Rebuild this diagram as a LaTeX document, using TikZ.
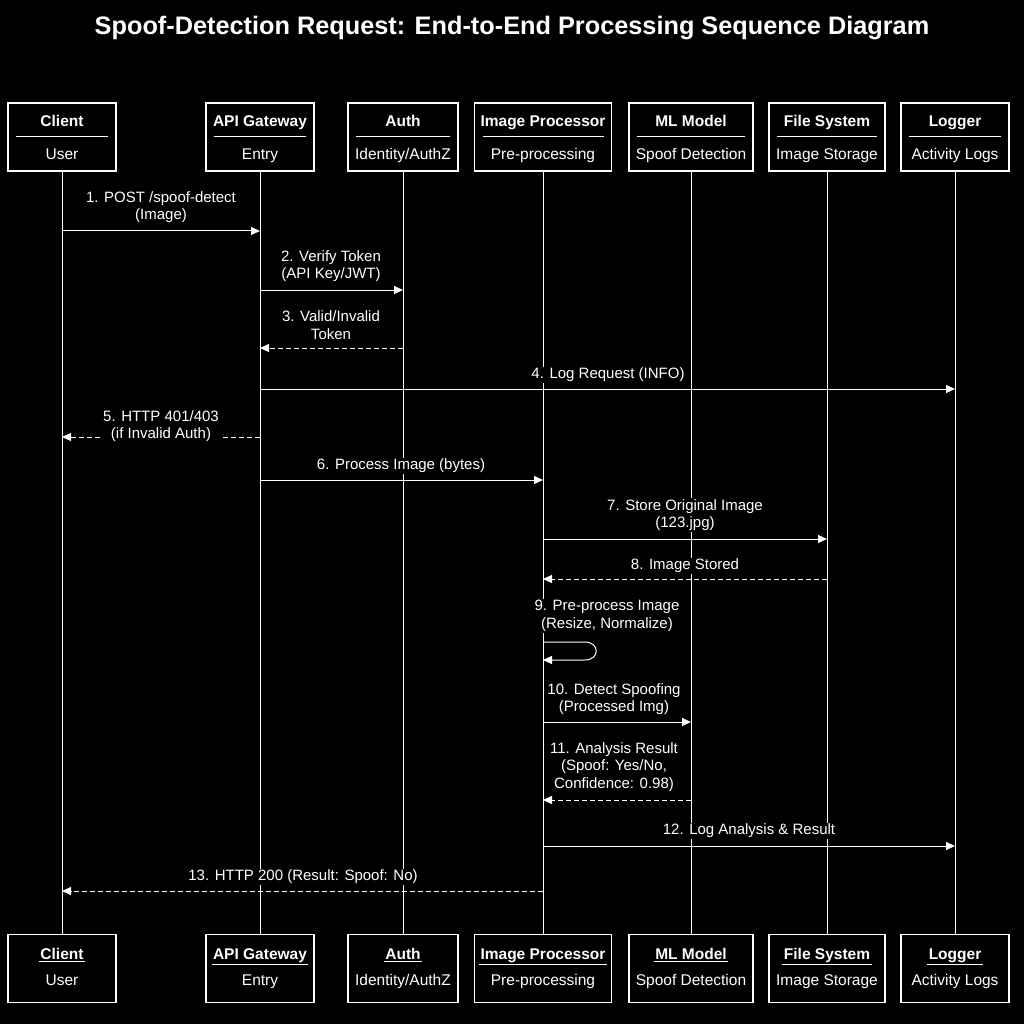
\documentclass[tikz,border=0pt]{standalone}
\usepackage{fontspec}
\setmainfont{Liberation Sans}
\usetikzlibrary{arrows.meta}
\begin{document}
\begin{tikzpicture}[x=1pt,y=-1pt,
  box/.style={draw=white,fill=black,line width=1.2pt,minimum height=68pt,inner sep=0pt},
  life/.style={draw=white,line width=1pt},
  msg/.style={draw=white,line width=1pt,-{Triangle[length=9pt,width=8pt]}},
  ret/.style={msg,dash pattern=on 5pt off 3pt},
  lab/.style={text=white,fill=black,font=\fontsize{15}{17.5}\selectfont,align=center,inner sep=1pt},
  hd/.style={text=white,font=\bfseries\fontsize{15.5}{17}\selectfont},
  sb/.style={text=white,font=\fontsize{15.5}{17}\selectfont}]
\fill[black] (0,0) rectangle (1024,1024);
\useasboundingbox (0,0) rectangle (1024,1024);
\node[text=white,font=\bfseries\fontsize{25.3}{29}\selectfont] (title) at (512,28) {Spoof-Detection Request: End-to-End Processing Sequence Diagram};
\foreach \n/\x/\w/\h/\s in {cl/62/108/Client/User, api/260/108/API Gateway/Entry, au/403/110/Auth/Identity\slash AuthZ, ip/543/137/Image Processor/Pre-processing, ml/691/124/ML Model/Spoof Detection, fs/827/116/File System/Image Storage, lg/955/108/Logger/Activity Logs}{
  \draw[life] (\x,171) -- (\x,935);
  \node[box,minimum width=\w pt] (\n t) at (\x,137) {};
  \node[hd,anchor=base] (\n th) at (\x,127) {\h};
  \draw[white,line width=1pt] (\x-0.5*\w+8,137) -- (\x+0.5*\w-8,137);
  \node[sb,anchor=base] (\n ts) at (\x,160) {\s};
  \node[box,minimum width=\w pt] (\n b) at (\x,968.5) {};
  \node[hd,anchor=base] (\n bh) at (\x,959) {\h};
  \draw[white,line width=1pt] (\n bh.south west)++(2,-1) -- ([xshift=-2pt,yshift=1pt]\n bh.south east);
  \node[sb,anchor=base] (\n bs) at (\x,985) {\s};
}
% messages
\node[lab] (l1) at (161,207) {1. POST /spoof-detect\\(Image)};
\draw[msg] (62,231) -- (260,231);
\node[lab] (l2) at (331,266) {2. Verify Token\\(API Key/JWT)};
\draw[msg] (260,290) -- (403,290);
\node[lab] (l3) at (331,325) {3. Valid/Invalid\\Token};
\draw[ret] (403,348) -- (260,348);
\node[lab] (l4) at (608,375) {4. Log Request (INFO)};
\draw[msg] (260,389) -- (955,389);
\draw[ret] (260,437) -- (62,437);
\node[lab] (l5) at (161,426) {5. HTTP 401/403\\(if Invalid Auth)};
\node[lab] (l6) at (401,466) {6. Process Image (bytes)};
\draw[msg] (260,480) -- (543,480);
\node[lab] (l7) at (685,515) {7. Store Original Image\\(123.jpg)};
\draw[msg] (543,539) -- (827,539);
\node[lab] (l8) at (685,566) {8. Image Stored};
\draw[ret] (827,579) -- (543,579);
\node[lab] (l9) at (607,616) {9. Pre-process Image\\(Resize, Normalize)};
\draw[msg] (543,642) -- (585,642) .. controls (600,642) and (600,660) .. (585,660) -- (543,660);
\node[lab] (l10) at (614,699) {10. Detect Spoofing\\(Processed Img)};
\draw[msg] (543,722) -- (691,722);
\node[lab] (l11) at (614,767) {11. Analysis Result\\(Spoof: Yes/No,\\Confidence: 0.98)};
\draw[ret] (691,800) -- (543,800);
\node[lab] (l12) at (749,831) {12. Log Analysis \& Result};
\draw[msg] (543,846) -- (955,846);
\node[lab] (l13) at (303,877) {13. HTTP 200 (Result: Spoof: No)};
\draw[ret] (543,891) -- (62,891);
\end{tikzpicture}
\end{document}
